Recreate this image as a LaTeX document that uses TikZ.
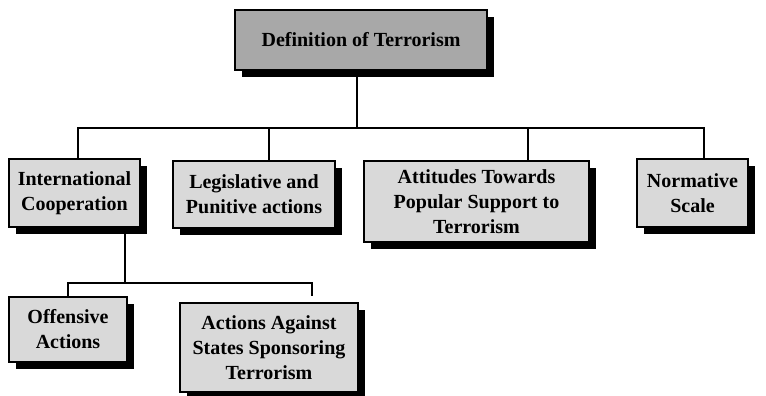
\documentclass[tikz,border=0pt]{standalone}
\usepackage{fontspec}
\setmainfont{Liberation Serif}
\usetikzlibrary{shadows}
\definecolor{topgray}{HTML}{A8A8A8}
\definecolor{boxgray}{HTML}{D9D9D9}
\tikzset{
  box/.style={draw=black, line width=1.5pt, fill=boxgray, align=center,
    font=\bfseries\fontsize{20}{25}\selectfont, inner sep=0pt,
    drop shadow={shadow xshift=7pt, shadow yshift=-7pt, fill=black, opacity=1}},
  link/.style={draw=black, line width=1.3pt}
}
\begin{document}
\begin{tikzpicture}[x=1pt,y=-1pt]
\useasboundingbox (0,0) rectangle (766,396);
\node[box, fill=topgray, minimum width=252pt, minimum height=60pt] (top) at (361,40) {Definition of Terrorism};
\node[box, minimum width=131pt, minimum height=68pt] (b1) at (74.5,193) {International\\Cooperation};
\node[box, minimum width=162pt, minimum height=67pt] (b2) at (254,194.5) {Legislative and\\Punitive actions};
\node[box, minimum width=225pt, minimum height=81pt] (b3) at (476.5,201.5) {Attitudes Towards\\Popular Support to\\Terrorism};
\node[box, minimum width=111pt, minimum height=68pt] (b4) at (692.5,193) {Normative\\Scale};
\node[box, minimum width=118pt, minimum height=65pt] (b5) at (68,329.5) {Offensive\\Actions};
\node[box, minimum width=178pt, minimum height=89pt] (b6) at (269,347.5) {Actions Against\\States Sponsoring\\Terrorism};
\coordinate (j1) at (357,128);
\coordinate (j2) at (125,283);
\coordinate (e6) at (312,296);
\draw[link] (top.south -| j1) -- (j1);
\draw[link] ([xshift=3.5pt]b1.north) |- (j1) -| ([xshift=11.5pt]b4.north);
\draw[link] ([xshift=15pt]b2.north) -- ([xshift=15pt]b2.north |- j1);
\draw[link] ([xshift=51.5pt]b3.north) -- ([xshift=51.5pt]b3.north |- j1);
\draw[link] (b1.south -| j2) -- (j2);
\draw[link] (b5.north) |- (j2) -| (e6);
\end{tikzpicture}
\end{document}
